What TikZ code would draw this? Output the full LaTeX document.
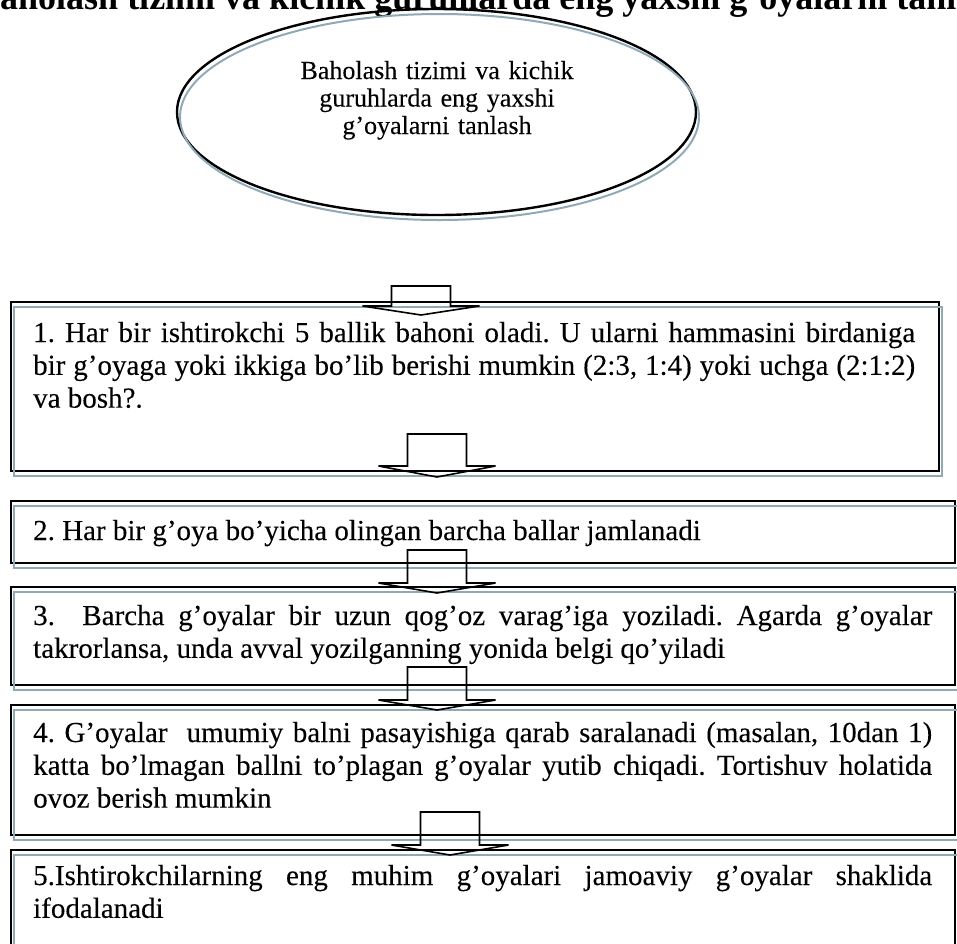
\documentclass[tikz,border=0pt]{standalone}
\usepackage{fontspec}
\setmainfont{Liberation Serif}[UprightFeatures={FakeBold=0.12}]
\usetikzlibrary{calc,shapes.geometric}
\definecolor{shadowblue}{HTML}{8FAAB4}
\newcommand\jline[2]{{\spaceskip=0pt\xspaceskip=0pt\makebox[#1][s]{#2}}}
\tikzset{
  boxline/.style={draw=black, line width=2.4pt},
  shadowline/.style={draw=shadowblue, line width=2pt},
  flowbox/.style={boxline, rectangle, inner sep=0pt, outer sep=0pt, anchor=north west},
  boxtext/.style={anchor=base west, inner sep=0pt, align=justify, font=\fontsize{29}{32.8}\selectfont\frenchspacing},
  blockarrow/.style={draw=black, line width=1.6pt, line join=miter},
  pics/blkarrow/.style 2 args={code={
    \draw[blockarrow] (-29.5,-#1) -- (29.5,-#1) -- (29.5,-#2) -- (58.5,-#2) -- (0,0)
      -- (-58.5,-#2) -- (-29.5,-#2) -- cycle;}}
}
\begin{document}
\begin{tikzpicture}[x=1pt,y=-1pt]
\useasboundingbox (0,0) rectangle (957,943);
\clip (0,0) rectangle (957,943);
% cut title at the top
\node[anchor=base west, inner sep=0pt, font=\fontsize{36}{40}\selectfont\bfseries] (title) at (-24,9)
  {Baholash tizimi va kichik guruhlarda eng yaxshi g’oyalarni tanlash};
% goal ellipse
\node[ellipse, boxline, minimum width=519pt, minimum height=206pt, inner sep=0pt, outer sep=0pt] (goal) at (436.5,112) {};
\draw[shadowline] ($(goal.center)+(3,5)$) ellipse [x radius=259.5, y radius=103];
\node[anchor=base, inner sep=0pt, text width=320pt, align=center, font=\fontsize{26}{27.5}\selectfont] (goaltext) at (437,79)
  {Baholash tizimi va kichik\\guruhlarda eng yaxshi\\g’oyalarni tanlash};
% boxes
\node[flowbox, minimum width=928pt, minimum height=169pt] (b1) at (11,302) {};
\node[flowbox, minimum width=944pt, minimum height=62pt] (b2) at (11,501) {};
\node[flowbox, minimum width=944pt, minimum height=98pt] (b3) at (11,587) {};
\node[flowbox, minimum width=944pt, minimum height=130pt] (b4) at (11,705) {};
\node[flowbox, minimum width=944pt, minimum height=120pt] (b5) at (11,850) {};
\foreach \b in {b1,b2,b3,b4,b5}{
  \draw[shadowline] ([shift={(3,5)}]\b.north west) rectangle ([shift={(3,5)}]\b.south east);
}
% texts
\node[boxtext, text width=882pt] (t1) at (33,342)
  {\jline{882pt}{1. Har bir ishtirokchi 5 ballik bahoni oladi. U ularni hammasini birdaniga}\\
   \jline{882pt}{bir g’oyaga yoki ikkiga bo’lib berishi mumkin (2:3, 1:4) yoki uchga (2:1:2)}\\
   va bosh?.};
\node[boxtext, text width=899pt] (t2) at (33,540)
  {2. Har bir g’oya bo’yicha olingan barcha ballar jamlanadi};
\node[boxtext, text width=899pt] (t3) at (33,625)
  {\jline{899pt}{3.\ \ Barcha g’oyalar bir uzun qog’oz varag’iga yoziladi. Agarda g’oyalar}\\
   takrorlansa, unda avval yozilganning yonida belgi qo’yiladi};
\node[boxtext, text width=899pt] (t4) at (33,742)
  {\jline{899pt}{4. G’oyalar\ \ umumiy balni pasayishiga qarab saralanadi (masalan, 10dan 1)}\\
   \jline{899pt}{katta bo’lmagan ballni to’plagan g’oyalar yutib chiqadi. Tortishuv holatida}\\
   ovoz berish mumkin};
\node[boxtext, text width=899pt] (t5) at (33,885)
  {\jline{899pt}{5.Ishtirokchilarning eng muhim g’oyalari jamoaviy g’oyalar shaklida}\\
   ifodalanadi};
% block arrows (tip points)
\coordinate (a1) at (421,315);
\coordinate (a2) at (437,477);
\coordinate (a3) at (437,593);
\coordinate (a4) at (437,710);
\coordinate (a5) at (450,855);
\pic at (a1) {blkarrow={29}{9}};
\pic at (a2) {blkarrow={43}{11}};
\pic at (a3) {blkarrow={43}{10}};
\pic at (a4) {blkarrow={43}{10}};
\pic at (a5) {blkarrow={43}{10}};
\end{tikzpicture}
\end{document}
